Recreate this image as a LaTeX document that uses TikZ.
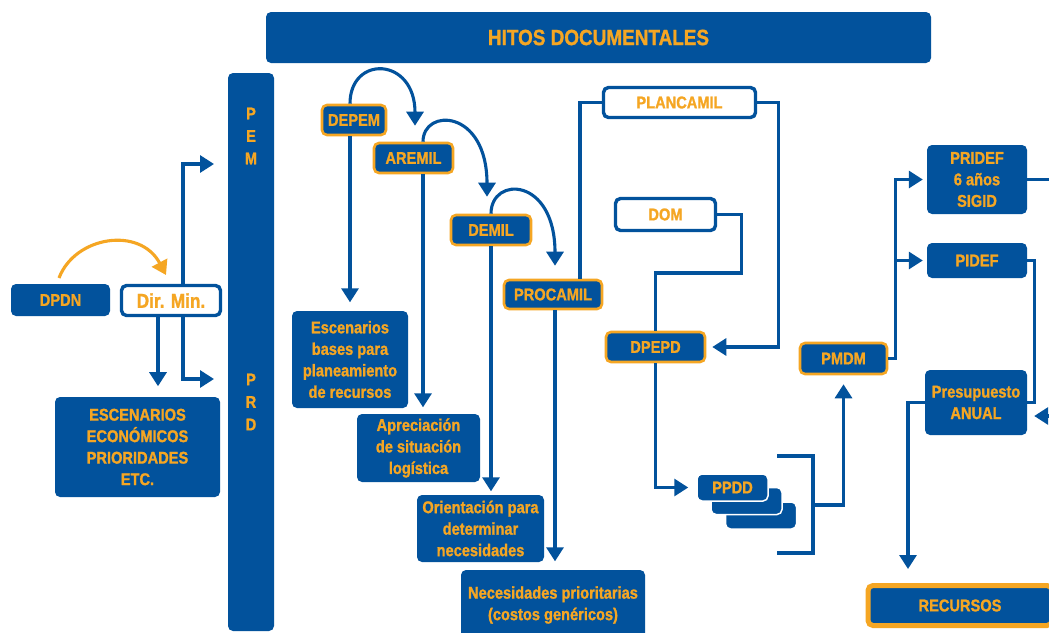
\documentclass[tikz,border=0pt]{standalone}
\usepackage{fontspec}
\setmainfont{Liberation Sans}[FakeStretch=0.86, BoldFeatures={FakeBold=1.2}]
\usetikzlibrary{arrows.meta,calc}
\definecolor{cblue}{RGB}{2,82,156}
\definecolor{corange}{RGB}{245,166,35}
\begin{document}
\begin{tikzpicture}[x=1pt,y=-1pt,
 base/.style={rounded corners=5pt, inner sep=0pt, align=center, text=corange, font=\fontsize{17}{21.5}\selectfont\bfseries},
 bx/.style={base, fill=cblue},
 obx/.style={base, fill=cblue, draw=corange, line width=2.6pt},
 wbx/.style={base, fill=white, draw=cblue, line width=3.4pt},
 ln/.style={draw=cblue, line width=3.1pt},
 arr/.style={ln, -{Triangle[length=14pt,width=17pt]}},
 oarr/.style={draw=corange, line width=3.1pt, -{Triangle[length=14pt,width=17pt]}},
]
\clip (0,0) rectangle (1049,632);
\fill[white] (0,0) rectangle (1049,632);

% nodes
\node[bx, minimum width=665pt, minimum height=51pt, font=\fontsize{22}{26}\selectfont\bfseries] (title) at (598.5,37.5) {HITOS DOCUMENTALES};
\node[bx, minimum width=46pt, minimum height=558pt] (bar) at (251,352) {};
\node[base, font=\fontsize{17}{22.5}\selectfont\bfseries] (pem) at (251,136) {P\\E\\M};
\node[base, font=\fontsize{17}{22.5}\selectfont\bfseries] (prd) at (251,402) {P\\R\\D};

\node[bx, minimum width=99pt, minimum height=32pt] (dpdn) at (60.5,300) {DPDN};
\node[wbx, minimum width=99pt, minimum height=30pt, font=\fontsize{20}{24}\selectfont\bfseries] (dirmin) at (171,300.5) {Dir. Min.};
\node[bx, minimum width=165pt, minimum height=100pt] (esc) at (137.5,447) {ESCENARIOS\\ECONÓMICOS\\PRIORIDADES\\ETC.};

\node[obx, minimum width=64pt, minimum height=30pt] (depem) at (354,120) {DEPEM};
\node[obx, minimum width=79pt, minimum height=30pt] (aremil) at (413.5,158) {AREMIL};
\node[obx, minimum width=80pt, minimum height=30pt] (demil) at (491,230) {DEMIL};
\node[obx, minimum width=98pt, minimum height=29pt] (procamil) at (553,294.5) {PROCAMIL};

\node[bx, minimum width=116pt, minimum height=97pt] (escb) at (350,359.5) {Escenarios\\bases para\\planeamiento\\de recursos};
\node[bx, minimum width=123pt, minimum height=68pt] (apre) at (418.5,448) {Apreciación\\de situación\\logística};
\node[bx, minimum width=127pt, minimum height=67pt] (orient) at (480.5,528.5) {Orientación para\\determinar\\necesidades};
\node[bx, minimum width=184pt, minimum height=70pt] (neces) at (553,605) {Necesidades prioritarias\\(costos genéricos)};

\node[wbx, minimum width=152pt, minimum height=30pt] (plancamil) at (679.5,102.5) {PLANCAMIL};
\node[wbx, minimum width=100pt, minimum height=32pt] (dom) at (665.5,214.5) {DOM};
\node[obx, minimum width=99pt, minimum height=30pt] (dpepd) at (655.5,347) {DPEPD};

\node[bx, draw=white, line width=1.5pt, minimum width=71pt, minimum height=27pt] (p3) at (761,515.5) {};
\node[bx, draw=white, line width=1.5pt, minimum width=71pt, minimum height=27pt] (p2) at (746.5,501) {};
\node[bx, draw=white, line width=1.5pt, minimum width=71pt, minimum height=27pt] (p1) at (732.5,487.5) {PPDD};

\node[obx, minimum width=87pt, minimum height=31pt] (pmdm) at (843.5,358.5) {PMDM};
\node[bx, minimum width=100pt, minimum height=69pt] (pridef) at (977,179.5) {PRIDEF\\6 años\\SIGID};
\node[bx, minimum width=100pt, minimum height=35pt] (pidef) at (977,260.5) {PIDEF};
\node[bx, minimum width=102pt, minimum height=65pt] (presup) at (976,402.5) {Presupuesto\\ANUAL};
\node[bx, draw=corange, line width=5pt, minimum width=184pt, minimum height=40pt] (rec) at (960,605.5) {RECURSOS};

% free-end coordinates
\coordinate (o1) at (59,278);
\coordinate (o2) at (166,275);
\coordinate (pemin) at (214,164);
\coordinate (prdin) at (214,379);
\coordinate (br1) at (777,456);
\coordinate (brc) at (813,553);
\coordinate (br2) at (777,553);
\coordinate (brm) at (813,505);
\coordinate (rin) at (1065,416);
\coordinate (rtip) at (908,569);
\coordinate (rout) at (1060,179.5);

% connectors
\draw[oarr] (o1) .. controls (75,236) and (140,226) .. (o2);
\draw[arr] ($(dirmin.north)+(12,0)$) |- (pemin);
\draw[arr] ($(dirmin.south)+(12,0)$) |- (prdin);
\draw[arr] ($(dirmin.south)+(-13,0)$) -- ++(0,69);

\draw[arr] ($(depem.north)+(-4,0)$) .. controls +(0,-49) and +(0,-69) .. ($(aremil.north)+(1.5,-16)$);
\draw[arr] ($(aremil.north)+(9.5,0)$) .. controls +(0,-34) and +(0,-88) .. ($(demil.north)+(-4,-17)$);
\draw[arr] (demil.north) .. controls +(0,-38) and +(0,-89) .. ($(procamil.north)+(2,-13)$);

\draw[arr] ($(depem.south)+(-4,0)$) -- ++(0,166);
\draw[arr] ($(aremil.south)+(9.5,0)$) -- ++(0,233);
\draw[arr] (demil.south) -- ++(0,245);
\draw[arr] ($(procamil.south)+(2,0)$) -- ++(0,251);

\draw[ln] ($(procamil.north)+(27,0)$) |- (plancamil.west);
\draw[arr] (plancamil.east) -- ++(21,0) |- ($(dpepd.east)+(6,0)$);
\draw[ln] (dom.east) -- ++(24,0) -- ++(0,58.5) -| (dpepd.north);
\draw[arr] (dpepd.south) |- ($(p1.west)+(-8,0)$);

\draw[ln] (br1) -| (brc) -- (br2);
\draw[arr] (brm) -| ($(pmdm.south)+(0,9)$);

\draw[arr] (pmdm.east) -- ++(7,0) |- ($(pridef.west)+(-4,0)$);
\draw[arr] (pmdm.east) -- ++(7,0) |- ($(pidef.west)+(-4,0)$);
\draw[ln] (pridef.east) -- (rout);
\draw[ln] (pidef.east) -- ++(7,0) |- (presup.east);
\draw[arr] (rin) -- ($(presup.east)+(7,13.5)$);
\draw[arr] (presup.west) -| (rtip);
\end{tikzpicture}
\end{document}
